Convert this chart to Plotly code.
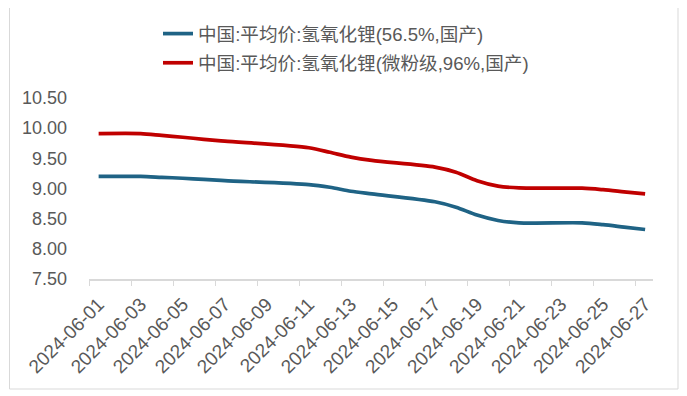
import plotly.graph_objects as go

dates = ["2024-06-01", "2024-06-03", "2024-06-04", "2024-06-05", "2024-06-06",
         "2024-06-07", "2024-06-11", "2024-06-12", "2024-06-13", "2024-06-14",
         "2024-06-17", "2024-06-18", "2024-06-19", "2024-06-20", "2024-06-21",
         "2024-06-24", "2024-06-25", "2024-06-26", "2024-06-27"]
blue_vals = [9.20, 9.20, 9.185, 9.17, 9.15, 9.13, 9.065, 9.02, 8.955, 8.91,
             8.78, 8.69, 8.56, 8.47, 8.43, 8.43, 8.40, 8.36, 8.32]
red_vals = [9.91, 9.91, 9.88, 9.85, 9.815, 9.785, 9.675, 9.60, 9.52, 9.465,
            9.355, 9.27, 9.13, 9.04, 9.01, 9.005, 8.98, 8.945, 8.91]
name_blue = "中国:平均价:氢氧化锂(56.5%,国产)"
name_red = "中国:平均价:氢氧化锂(微粉级,96%,国产)"
tick_dates = ["2024-06-%02d" % d for d in range(1, 28, 2)]
y_ticks = [7.5, 8.0, 8.5, 9.0, 9.5, 10.0, 10.5]

FONT = "Liberation Sans, Arial, Noto Sans CJK SC, sans-serif"
GRAY = "#595959"

# page offset of the plotly div (default body margin)
OFF = 8
PAGE_W, PAGE_H = 687, 396
W, H = PAGE_W - OFF, PAGE_H - OFF
# plot area in page pixel coordinates
PL, PR, PT, PB = 89, 653, 98, 279
L = PL - OFF
R = W - (PR - OFF)
T = PT - OFF
B = H - (PB - OFF)
pw, ph = W - L - R, H - T - B

def px(x):
    return (x - PL) / pw

def py(y):
    return (PB - y) / ph

fig = go.Figure()
fig.add_trace(go.Scatter(x=dates, y=blue_vals, name=name_blue, mode="lines",
                         line=dict(color="#1F6385", width=3.7, shape="spline", smoothing=0.8),
                         legendgroup="a"))
fig.add_trace(go.Scatter(x=dates, y=red_vals, name=name_red, mode="lines",
                         line=dict(color="#C00000", width=3.7, shape="spline", smoothing=0.8),
                         legendgroup="b"))

fig.update_layout(
    width=W, height=H,
    margin=dict(l=L, r=R, t=T, b=B, autoexpand=False),
    paper_bgcolor="white", plot_bgcolor="white",
    font=dict(family=FONT, color=GRAY, size=18),
    showlegend=True,
    legend=dict(x=px(158), y=py(15), xanchor="left", yanchor="top",
                orientation="v", tracegroupgap=2,
                font=dict(size=18.6, color=GRAY, family=FONT),
                bgcolor="rgba(0,0,0,0)"),
    xaxis=dict(type="date",
               range=["2024-05-31 13:00", "2024-06-27 09:00"],
               tickvals=tick_dates, ticktext=tick_dates,
               tickangle=-45, ticks="outside", ticklen=5,
               tickcolor="rgba(0,0,0,0)", showgrid=False,
               showline=True, linecolor="#D9D9D9", linewidth=1.5,
               tickfont=dict(size=19, color=GRAY, family=FONT),
               minor=dict(ticks="outside", tick0="2024-05-31 13:00",
                          dtick=2 * 86400000, ticklen=5, tickcolor="#D9D9D9",
                          tickwidth=1, showgrid=False),
               zeroline=False),
    yaxis=dict(range=[7.5, 10.5], tickvals=y_ticks,
               ticktext=["%.2f" % v for v in y_ticks],
               showgrid=False, zeroline=False, showline=False,
               ticks="", ticklabelstandoff=21,
               tickfont=dict(size=18, color=GRAY, family=FONT)),
    shapes=[dict(type="rect", xref="paper", yref="paper",
                 x0=px(9.5), x1=px(678), y0=py(389), y1=py(5),
                 line=dict(color="#D9D9D9", width=1), fillcolor="rgba(0,0,0,0)",
                 layer="below")],
)

fig.write_html("out.html")
